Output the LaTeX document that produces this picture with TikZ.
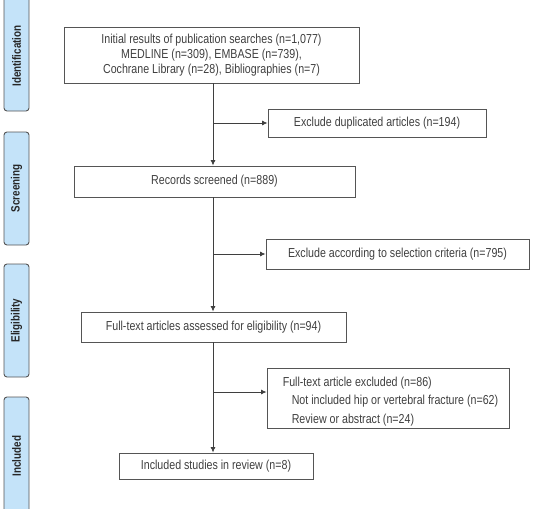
\documentclass[tikz,border=0pt]{standalone}
\usepackage{fontspec}
\setmainfont{Liberation Sans}[FakeStretch=0.82]
\usetikzlibrary{arrows.meta}
\definecolor{sidefill}{HTML}{C4E3F9}
\definecolor{edgegray}{HTML}{555555}
\definecolor{txtgray}{HTML}{3F3F3F}
\tikzset{
  mainbox/.style={draw=edgegray, line width=0.9pt, text=txtgray, inner sep=2pt, font=\fontsize{13}{15}\selectfont, align=center},
  plaintext/.style={text=txtgray, inner sep=0pt, font=\fontsize{13}{15}\selectfont},
  sidebox/.style={draw=edgegray, fill=sidefill, line width=0.9pt, rounded corners=3pt},
  sidelabel/.style={rotate=90, text=black!85, font=\bfseries\fontsize{12}{13}\selectfont},
  link/.style={draw=txtgray, line width=0.8pt},
  arr/.style={link, -{Latex[length=5.5pt,width=5pt]}}
}
\begin{document}
\begin{tikzpicture}[x=1pt,y=-1pt]
\useasboundingbox (0,0) rectangle (537,508);
\begin{scope}
\clip (0,0) rectangle (537,508);
\draw[sidebox] (4,-6) rectangle (29,111);
\node[sidelabel] (lid) at (16.5,56) {Identification};
\draw[sidebox] (4,132) rectangle (29,245);
\node[sidelabel] (lsc) at (16.5,188.5) {Screening};
\draw[sidebox] (4,264) rectangle (29,377);
\node[sidelabel] (lel) at (16.5,320.5) {Eligibility};
\draw[sidebox] (4,397) rectangle (29,514);
\node[sidelabel] (lin) at (16.5,456) {Included};
\end{scope}

\node[mainbox, minimum width=295pt, minimum height=56pt] (b1) at (211.5,55)
  {Initial results of publication searches (n=1,077)\\MEDLINE (n=309), EMBASE (n=739),\\Cochrane Library (n=28), Bibliographies (n=7)};
\node[mainbox, minimum width=218pt, minimum height=28pt] (b2) at (377,123)
  {Exclude duplicated articles (n=194)};
\node[mainbox, minimum width=281pt, minimum height=31pt] (b3) at (214.5,181.5)
  {Records screened (n=889)};
\node[mainbox, minimum width=263pt, minimum height=30pt] (b4) at (397.5,254)
  {Exclude according to selection criteria (n=795)};
\node[mainbox, minimum width=265pt, minimum height=30pt] (b5) at (213.5,327)
  {Full-text articles assessed for eligibility (n=94)};
\node[mainbox, minimum width=242pt, minimum height=60pt] (b6) at (388,398) {};
\node[plaintext, anchor=west] (t6) at ([xshift=16pt,yshift=-3.5pt]b6.west)
  {\begin{tabular}{@{}l@{}}Full-text article excluded (n=86)\\[3.5pt]\hspace*{9pt}Not included hip or vertebral fracture (n=62)\\[3.5pt]\hspace*{9pt}Review or abstract (n=24)\end{tabular}};
\node[mainbox, minimum width=194pt, minimum height=26pt] (b7) at (216,466)
  {Included studies in review (n=8)};

\coordinate (m) at (213,0);
\coordinate (j1) at (213,123);
\coordinate (j2) at (213,254);
\coordinate (j3) at (213,392);

\draw[arr] (b1.south -| m) -- (b3.north -| m);
\draw[arr] (b3.south -| m) -- (b5.north -| m);
\draw[arr] (b5.south -| m) -- (b7.north -| m);
\draw[arr] (j1) -- (b2.west |- j1);
\draw[arr] (j2) -- (b4.west |- j2);
\draw[arr] (j3) -- (b6.west |- j3);
\end{tikzpicture}
\end{document}
